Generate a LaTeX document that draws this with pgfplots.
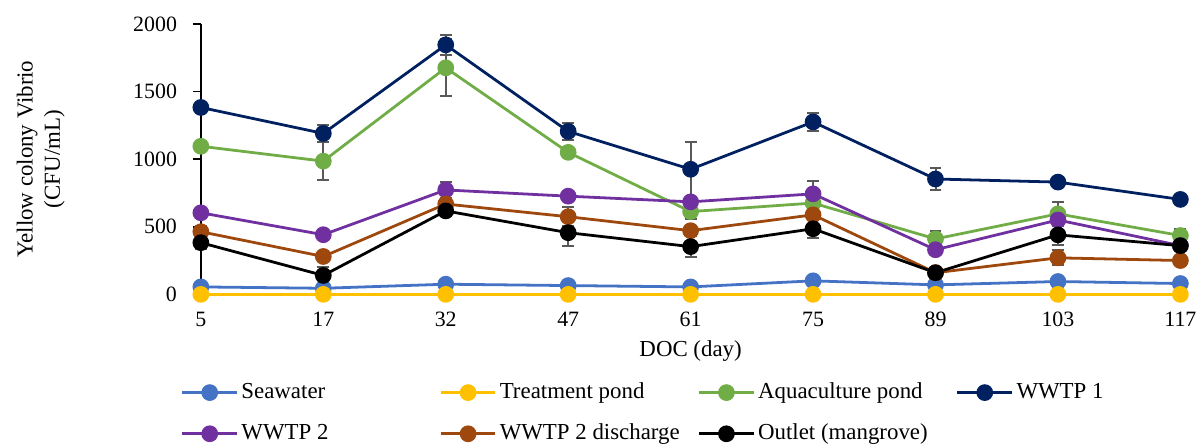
\documentclass[border=0pt]{standalone}
\usepackage{pgfplots}
\pgfplotsset{compat=1.18}
\usepackage{fontspec}
\setmainfont{Liberation Serif}
\definecolor{cSea}{HTML}{4472C4}
\definecolor{cTreat}{HTML}{FFC000}
\definecolor{cAqua}{HTML}{70AD47}
\definecolor{cW1}{HTML}{002060}
\definecolor{cW2}{HTML}{7030A0}
\definecolor{cDis}{HTML}{9E480E}
\definecolor{cOut}{HTML}{000000}
\definecolor{cErr}{HTML}{595959}
\begin{document}
\fontsize{11.5}{13.8}\selectfont
\begin{tikzpicture}
\begin{axis}[
  scale only axis, width=492.5pt, height=136pt,
  xmin=0, xmax=8, ymin=0, ymax=2000,
  clip=false,
  axis x line=bottom, axis y line=left,
  axis line style={-, black, line width=0.8pt},
  xtick={0,...,8},
  xticklabels={5,17,32,47,61,75,89,103,117},
  x tick style={draw=none},
  ytick={0,500,1000,1500,2000},
  y tick style={black, line width=0.8pt},
  tick align=outside, major tick length=4pt,
  tick label style={font=\fontsize{11}{13}\selectfont},
  /pgf/number format/assume math mode=true,
  /pgf/number format/1000 sep={},
  xticklabel style={yshift=-1pt},
  yticklabel style={xshift=-4pt},
  xlabel={DOC (day)},
  xlabel style={at={(axis description cs:0.5,-0.21)}, anchor=center},
  ylabel={Yellow colony Vibrio\\(CFU/mL)},
  ylabel style={align=center, at={(axis description cs:-0.1635,0.5)}, anchor=center, rotate=0},
  every axis plot/.append style={line width=1.4pt, mark=*, mark size=3.5pt},
  error bars/error bar style={cErr, line width=1pt, solid},
  error bars/error mark options={rotate=90, mark size=3pt, cErr, line width=1pt},
  legend columns=4,
  legend style={at={(-0.0203,-0.4393)}, anchor=west, draw=none, fill=none,
    inner sep=0pt, outer sep=0pt,
    row sep=7pt,
    /tikz/column sep=0pt,
    nodes={inner xsep=1.5pt, inner ysep=2pt, anchor=west}},
  legend cell align=left,
  legend image code/.code={\draw[#1, mark repeat=2, mark phase=2] plot coordinates {(0pt,0pt) (13.75pt,0pt) (27.5pt,0pt)};},
]
% Seawater
\addplot[color=cSea, mark options={fill=cSea, draw=cSea}] coordinates {
(0,55) (1,45) (2,75) (3,65) (4,55) (5,100) (6,70) (7,95) (8,80)};
\addlegendentry{\makebox[98pt][l]{Seawater}}
% Treatment pond
\addplot[color=cTreat, mark options={fill=cTreat, draw=cTreat}] coordinates {
(0,0) (1,0) (2,0) (3,0) (4,0) (5,0) (6,0) (7,0) (8,0)};
\addlegendentry{\makebox[98pt][l]{Treatment pond}}
% Aquaculture pond
\addplot[color=cAqua, mark options={fill=cAqua, draw=cAqua},
  error bars/.cd, y dir=both, y explicit] coordinates {
(0,1095) +- (0,0)
(1,985) +- (0,140)
(2,1675) +- (0,210)
(3,1050) +- (0,20)
(4,612) +- (0,55)
(5,675) +- (0,30)
(6,410) +- (0,60)
(7,595) +- (0,90)
(8,435) +- (0,45)};
\addlegendentry{\makebox[98pt][l]{Aquaculture pond}}
% WWTP 1
\addplot[color=cW1, mark options={fill=cW1, draw=cW1},
  error bars/.cd, y dir=both, y explicit] coordinates {
(0,1382) +- (0,0)
(1,1190) +- (0,60)
(2,1845) +- (0,73)
(3,1205) +- (0,62)
(4,925) +- (0,205)
(5,1275) +- (0,65)
(6,853) +- (0,80)
(7,830) +- (0,30)
(8,702) +- (0,30)};
\addlegendentry{\makebox[60pt][l]{WWTP 1}}
% WWTP 2
\addplot[color=cW2, mark options={fill=cW2, draw=cW2},
  error bars/.cd, y dir=both, y explicit] coordinates {
(0,603) +- (0,20)
(1,441) +- (0,20)
(2,772) +- (0,60)
(3,726) +- (0,20)
(4,684) +- (0,20)
(5,743) +- (0,95)
(6,330) +- (0,30)
(7,550) +- (0,30)
(8,360) +- (0,20)};
\addlegendentry{\makebox[98pt][l]{WWTP 2}}
% WWTP 2 discharge
\addplot[color=cDis, mark options={fill=cDis, draw=cDis},
  error bars/.cd, y dir=both, y explicit] coordinates {
(0,463) +- (0,45)
(1,280) +- (0,20)
(2,668) +- (0,20)
(3,574) +- (0,70)
(4,471) +- (0,20)
(5,588) +- (0,20)
(6,160) +- (0,20)
(7,270) +- (0,55)
(8,250) +- (0,20)};
\addlegendentry{\makebox[98pt][l]{WWTP 2 discharge}}
% Outlet (mangrove)
\addplot[color=cOut, mark options={fill=cOut, draw=cOut},
  error bars/.cd, y dir=both, y explicit] coordinates {
(0,382) +- (0,45)
(1,140) +- (0,60)
(2,617) +- (0,20)
(3,456) +- (0,100)
(4,353) +- (0,80)
(5,485) +- (0,65)
(6,160) +- (0,20)
(7,440) +- (0,75)
(8,360) +- (0,20)};
\addlegendentry{Outlet (mangrove)}
\coordinate (bbl) at (rel axis cs:-0.20508,-0.55147);
\coordinate (btr) at (rel axis cs:1.01726,1.08824);
\end{axis}
\path (bbl) rectangle (btr);
\end{tikzpicture}
\end{document}
